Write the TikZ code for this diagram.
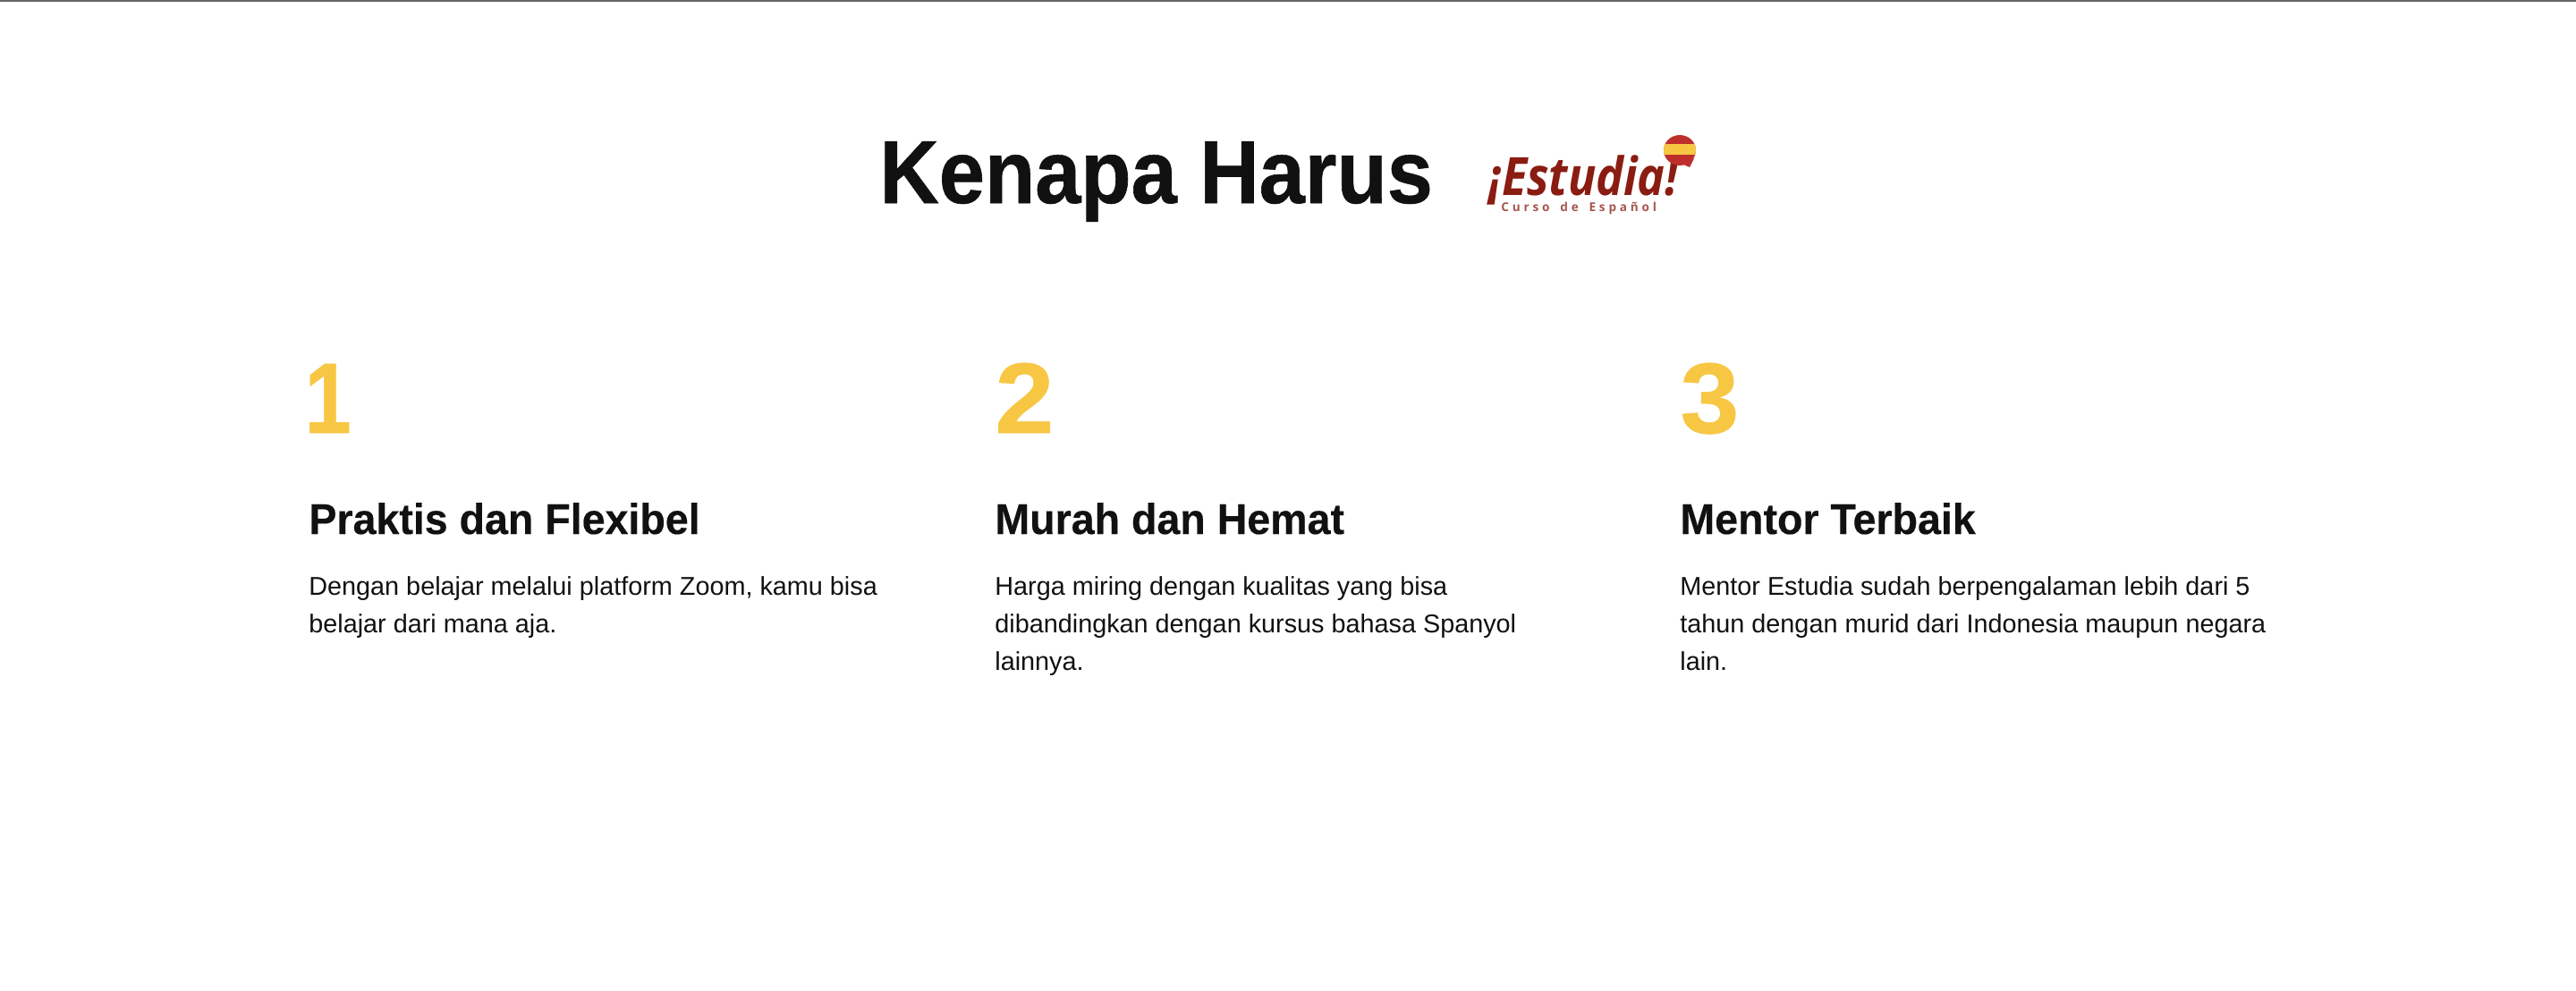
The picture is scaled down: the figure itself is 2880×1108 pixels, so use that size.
\documentclass[tikz,border=0pt]{standalone}
\usepackage{fontspec}
\setmainfont{Liberation Sans}
\newfontfamily\titlefont[FakeStretch=.92,FakeBold=.6]{Liberation Sans}
\newfontfamily\numfont[FakeStretch=1.06,FakeBold=.6]{Liberation Sans}
\newfontfamily\onefont[FakeStretch=.84,FakeBold=.6]{Liberation Sans}
\newfontfamily\headfont[FakeStretch=.97,FakeBold=.3]{Liberation Sans}
\newfontfamily\logofont[FakeStretch=.88]{Open Sans}
\newfontfamily\logosubfont[LetterSpace=28,WordSpace=1.6]{Open Sans}
\usepackage{tikz}
\usetikzlibrary{positioning}
\definecolor{inkblack}{HTML}{111111}
\definecolor{numyellow}{HTML}{F7C744}
\definecolor{logored}{HTML}{8A1C12}
\definecolor{flagred}{HTML}{BE2F2B}
\tikzset{
  titletext/.style={anchor=base west,inner sep=0pt,text=inkblack,font=\titlefont\fontsize{50}{54}\selectfont\bfseries},
  numtext/.style={anchor=base west,inner sep=0pt,text=numyellow,font=\numfont\fontsize{56}{60}\selectfont\bfseries},
  headtext/.style={anchor=base west,inner sep=0pt,text=inkblack,font=\headfont\fontsize{24}{28}\selectfont\bfseries},
  bodytext/.style={anchor=base west,inner sep=0pt,text=inkblack,font=\fontsize{14.4}{21}\selectfont},
}
\begin{document}
\begin{tikzpicture}[x=.5pt,y=-.5pt]
\useasboundingbox (0,0) rectangle (2880,1108);
\fill[white] (0,0) rectangle (2880,1108);
\fill[black!60] (0,0) rectangle (2880,2);
\node[titletext] (title) at (983,227) {Kenapa Harus};
% logo
\node[anchor=base west,inner sep=0pt,text=logored,font=\logofont\fontsize{29.5}{33}\selectfont\bfseries\itshape] (logo) at (1664,218) {¡Estudia!};
\node[anchor=base west,inner sep=0pt,text=logored!75,font=\logosubfont\fontsize{6.8}{9}\selectfont\bfseries] (logosub) at (1678,236) {Curso de Español};
\begin{scope}
\clip (1878,168) ellipse (18 and 17);
\fill[flagred] (1860,150) rectangle (1897,186);
\fill[numyellow] (1860,161) rectangle (1897,173);
\end{scope}
\fill[flagred] (1880,183) -- (1894,177) -- (1889,187) -- cycle;
% columns
\node[numtext,font=\onefont\fontsize{56}{60}\selectfont\bfseries] (n1) at (340,484) {1};
\node[numtext] (n2) at (1112,484) {2};
\node[numtext] (n3) at (1878,484) {3};
\node[headtext] (h1) at (345,597) {Praktis dan Flexibel};
\node[headtext] (h2) at (1112,597) {Murah dan Hemat};
\node[headtext] (h3) at (1878,597) {Mentor Terbaik};
\node[bodytext] (b11) at (345,665) {Dengan belajar melalui platform Zoom, kamu bisa};
\node[bodytext] (b12) at (345,707) {belajar dari mana aja.};
\node[bodytext] (b21) at (1112,665) {Harga miring dengan kualitas yang bisa};
\node[bodytext] (b22) at (1112,707) {dibandingkan dengan kursus bahasa Spanyol};
\node[bodytext] (b23) at (1112,749) {lainnya.};
\node[bodytext] (b31) at (1878,665) {Mentor Estudia sudah berpengalaman lebih dari 5};
\node[bodytext] (b32) at (1878,707) {tahun dengan murid dari Indonesia maupun negara};
\node[bodytext] (b33) at (1878,749) {lain.};
\end{tikzpicture}
\end{document}
